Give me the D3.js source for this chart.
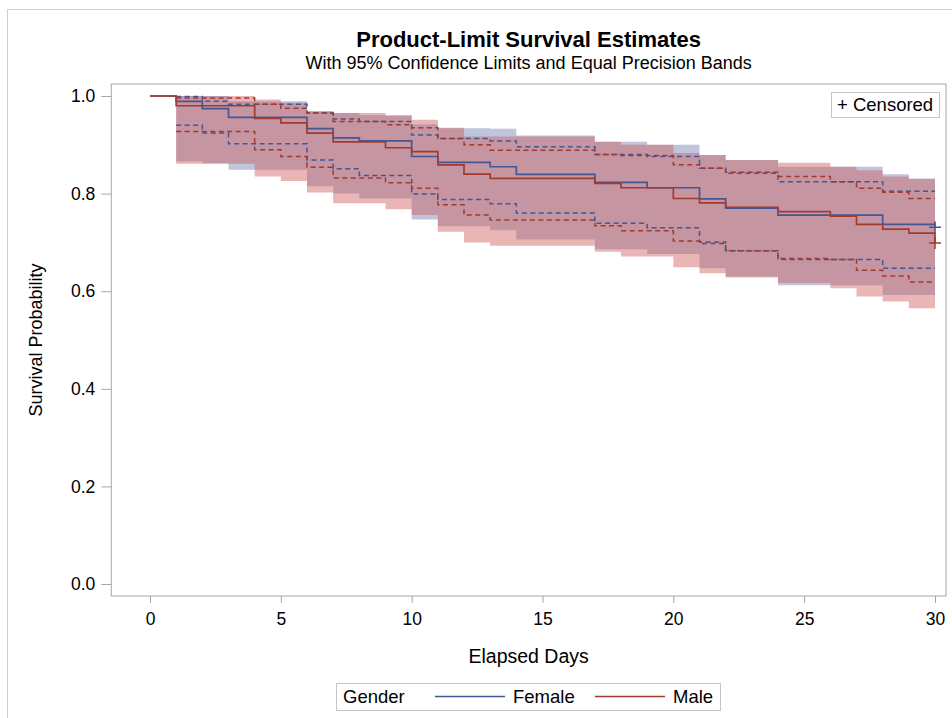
<html>
<head>
<meta charset="utf-8">
<title>Product-Limit Survival Estimates</title>
<style>
	body { margin: 0; background: #fff; }
	text { font-family: "Liberation Sans", Arial, sans-serif; fill: #000; }
</style>
</head>
<body>
<div id="chart"></div>
<script src="https://d3js.org/d3.v7.min.js"></script>
<script>
	// values (step values hold from that day on)
	var femaleDays  = [0, 1, 2, 3, 6, 7, 8, 10, 11, 13, 14, 17, 19, 21, 22, 24, 28, 29, 30];
	var femaleSurv  = [1, 0.989, 0.974, 0.956, 0.933, 0.914, 0.908, 0.876, 0.864, 0.855, 0.8395, 0.823, 0.812, 0.789, 0.770, 0.756, 0.737, 0.737, 0.731];
	var femaleLower = [null, 0.940, 0.924, 0.902, 0.869, 0.851, 0.837, 0.799, 0.788, 0.779, 0.760, 0.739, 0.730, 0.701, 0.683, 0.665, 0.647, 0.647, 0.647];
	var femaleUpper = [null, 0.999, 0.989, 0.983, 0.965, 0.953, 0.948, 0.920, 0.913, 0.908, 0.896, 0.880, 0.876, 0.852, 0.8415, 0.8245, 0.805, 0.805, 0.805];
	var femaleBandLo = [null, 0.866, 0.862, 0.849, 0.815, 0.800, 0.790, 0.747, 0.733, 0.725, 0.706, 0.686, 0.676, 0.647, 0.630, 0.612, 0.592, 0.592, 0.592];
	var femaleBandHi = [null, 1.0, 1.0, 0.989, 0.969, 0.965, 0.961, 0.942, 0.934, 0.933, 0.919, 0.906, 0.900, 0.879, 0.869, 0.855, 0.8395, 0.831, 0.831];

	var maleDays  = [0, 1, 4, 5, 6, 7, 9, 10, 11, 12, 13, 17, 18, 20, 21, 22, 24, 26, 27, 28, 29, 30];
	var maleSurv  = [1, 0.980, 0.954, 0.945, 0.924, 0.906, 0.894, 0.886, 0.859, 0.840, 0.831, 0.821, 0.812, 0.790, 0.781, 0.772, 0.763, 0.754, 0.737, 0.727, 0.719, 0.699];
	var maleLower = [null, 0.927, 0.890, 0.876, 0.854, 0.832, 0.822, 0.811, 0.777, 0.756, 0.746, 0.734, 0.724, 0.703, 0.698, 0.683, 0.667, 0.665, 0.643, 0.631, 0.619, 0.619];
	var maleUpper = [null, 0.996, 0.983, 0.975, 0.965, 0.948, 0.941, 0.935, 0.913, 0.900, 0.889, 0.880, 0.878, 0.859, 0.852, 0.8436, 0.835, 0.8245, 0.811, 0.8026, 0.790, 0.790];
	var maleBandLo = [null, 0.861, 0.835, 0.826, 0.802, 0.780, 0.768, 0.756, 0.722, 0.700, 0.693, 0.681, 0.671, 0.649, 0.637, 0.628, 0.617, 0.606, 0.589, 0.579, 0.565, 0.565];
	var maleBandHi = [null, 1.0, 0.993, 0.986, 0.969, 0.965, 0.959, 0.9515, 0.935, 0.917, 0.917, 0.906, 0.900, 0.883, 0.879, 0.869, 0.863, 0.855, 0.848, 0.835, 0.830, 0.830];

	var xTicks = [0, 5, 10, 15, 20, 25, 30];
	var yTicks = [0, 0.2, 0.4, 0.6, 0.8, 1.0];
	var groupNames = ["Female", "Male"];
	var lineColors = ["#445694", "#A23A2E"];
	var bandColors = ["#6F7EB3", "#D05B5B"];

	var width = 952, height = 718;
	var frameColor = "#a2a8ae";

	var svg = d3.select("#chart").append("svg")
				.attr("width", width)
				.attr("height", height);

	var x = d3.scaleLinear().domain([0, 30]).range([150, 935]);
	var y = d3.scaleLinear().domain([0, 1]).range([584, 96]);

	// plot frame sits a little outside the data range
	var fLeft = x(-1.48), fRight = x(30.42), fTop = y(1.0246), fBottom = y(-0.0246);

	// outer graph border (only left and top edges show)
	svg.append("rect")
		.attr("x", 7.5).attr("y", 9.5)
		.attr("width", width).attr("height", height)
		.attr("fill", "none").attr("stroke", "#d0d0d0");

	svg.append("text")
		.attr("x", (fLeft + fRight) / 2).attr("y", 47)
		.attr("text-anchor", "middle")
		.attr("font-size", "22px").attr("font-weight", "bold")
		.text("Product-Limit Survival Estimates");

	svg.append("text")
		.attr("x", (fLeft + fRight) / 2).attr("y", 69)
		.attr("text-anchor", "middle")
		.attr("font-size", "18px")
		.text("With 95% Confidence Limits and Equal Precision Bands");

	function build_rows(days, surv, lo, hi, blo, bhi) {
		return days.map(function(d, i) {
			return { t: d, s: surv[i], lo: lo[i], hi: hi[i], blo: blo[i], bhi: bhi[i] };
		});
	}

	var groups = [
		build_rows(femaleDays, femaleSurv, femaleLower, femaleUpper, femaleBandLo, femaleBandHi),
		build_rows(maleDays, maleSurv, maleLower, maleUpper, maleBandLo, maleBandHi)
	];

	svg.append("clipPath").attr("id", "plotclip")
		.append("rect")
		.attr("x", fLeft).attr("y", fTop)
		.attr("width", fRight - fLeft).attr("height", fBottom - fTop);

	var plot = svg.append("g").attr("clip-path", "url(#plotclip)");

	var band = d3.area()
				.defined(function(d) { return d.blo != null; })
				.x(function(d) { return x(d.t); })
				.y0(function(d) { return y(d.blo); })
				.y1(function(d) { return y(d.bhi); })
				.curve(d3.curveStepAfter);

	function limit_line(key) {
		return d3.line()
				.defined(function(d) { return d[key] != null; })
				.x(function(d) { return x(d.t); })
				.y(function(d) { return y(d[key]); })
				.curve(d3.curveStepAfter);
	}

	var survLine = limit_line("s");

	// bands first, blue under red
	groups.forEach(function(rows, i) {
		plot.append("path")
			.attr("d", band(rows))
			.attr("fill", bandColors[i])
			.attr("fill-opacity", 0.45);
	});

	groups.forEach(function(rows, i) {
		["lo", "hi"].forEach(function(key) {
			plot.append("path")
				.attr("d", limit_line(key)(rows))
				.attr("fill", "none")
				.attr("stroke", lineColors[i])
				.attr("stroke-width", 1.5)
				.attr("stroke-dasharray", "5,3.5");
		});
	});

	groups.forEach(function(rows, i) {
		plot.append("path")
			.attr("d", survLine(rows))
			.attr("fill", "none")
			.attr("stroke", lineColors[i])
			.attr("stroke-width", 1.7);

		// censored mark at the last time
		var last = rows[rows.length - 1];
		var cx = x(last.t), cy = y(last.s);
		plot.append("path")
			.attr("d", "M" + (cx - 6) + "," + cy + "H" + (cx + 6) + "M" + cx + "," + (cy - 6) + "V" + (cy + 6))
			.attr("stroke", lineColors[i])
			.attr("stroke-width", 1.5);
	});

	// frame
	svg.append("rect")
		.attr("x", fLeft).attr("y", fTop)
		.attr("width", fRight - fLeft).attr("height", fBottom - fTop)
		.attr("fill", "none").attr("stroke", frameColor);

	var yAxis = svg.append("g")
				.attr("transform", "translate(" + fLeft + ",0)")
				.call(d3.axisLeft(y).tickValues(yTicks).tickFormat(d3.format(".1f")).tickSize(10).tickPadding(6));

	var xAxis = svg.append("g")
				.attr("transform", "translate(0," + fBottom + ")")
				.call(d3.axisBottom(x).tickValues(xTicks).tickSize(7).tickPadding(10));

	[xAxis, yAxis].forEach(function(ax) {
		ax.select(".domain").remove();
		ax.selectAll(".tick line").attr("stroke", frameColor);
		ax.selectAll(".tick text")
			.attr("font-size", "17.5px")
			.attr("font-family", "Liberation Sans, Arial, sans-serif")
			.attr("fill", "#111");
	});

	svg.append("text")
		.attr("x", (fLeft + fRight) / 2).attr("y", 663)
		.attr("text-anchor", "middle")
		.attr("font-size", "19.5px")
		.text("Elapsed Days");

	svg.append("text")
		.attr("transform", "translate(42," + ((fTop + fBottom) / 2) + ") rotate(-90)")
		.attr("text-anchor", "middle")
		.attr("font-size", "18px")
		.text("Survival Probability");

	// censored legend, top right inside frame
	var cenBox = svg.append("g").attr("transform", "translate(831,92)");
	cenBox.append("rect")
		.attr("x", 0.5).attr("y", 0.5)
		.attr("width", 108).attr("height", 25)
		.attr("fill", "#fff").attr("stroke", "#c4c4c4");
	cenBox.append("text")
		.attr("x", 6).attr("y", 19)
		.attr("font-size", "18.5px")
		.text("+ Censored");

	// group legend at the bottom
	var legend = svg.append("g").attr("transform", "translate(336,683)");
	legend.append("rect")
		.attr("x", 0.5).attr("y", 0.5)
		.attr("width", 384).attr("height", 27)
		.attr("fill", "#fff").attr("stroke", "#c4c4c4");
	legend.append("text")
		.attr("x", 7).attr("y", 20)
		.attr("font-size", "18.5px")
		.text("Gender");

	var legendX = [99, 259];
	groupNames.forEach(function(name, i) {
		legend.append("line")
			.attr("x1", legendX[i]).attr("x2", legendX[i] + 70)
			.attr("y1", 13.5).attr("y2", 13.5)
			.attr("stroke", lineColors[i])
			.attr("stroke-width", 1.5);
		legend.append("text")
			.attr("x", legendX[i] + 78).attr("y", 20)
			.attr("font-size", "18.5px")
			.text(name);
	});
</script>
</body>
</html>
